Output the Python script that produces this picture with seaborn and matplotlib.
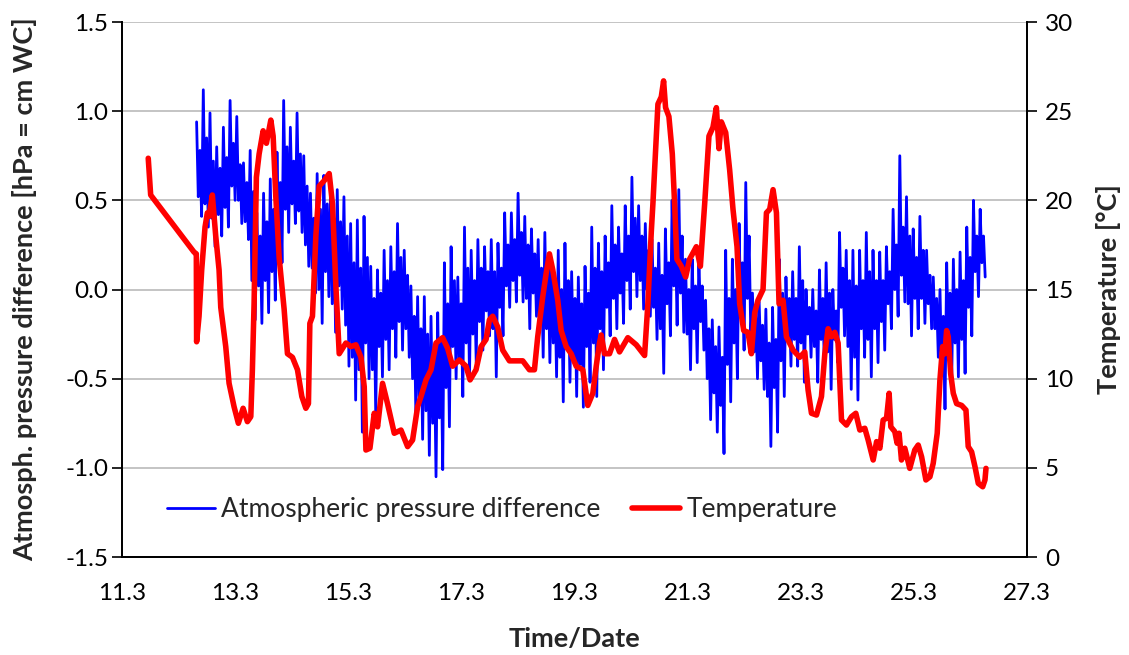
import numpy as np
import pandas as pd
import matplotlib
matplotlib.use("Agg")
import matplotlib.pyplot as plt
import seaborn as sns

# ------------------------------
# data
# ------------------------------
# atmospheric pressure difference, per short time bin:
# outer peak / outer trough and inner peak / inner trough
press_hi = [0.94, 1.12, 0.99, 0.80, 0.91, 1.06, 0.97, 0.71, 0.78, 0.43, 0.54, 0.62, 0.77,
            1.06, 0.91, 0.99, 0.75, 0.54, 0.65, 0.64, 0.58, 0.56, 0.52, 0.37, 0.39, 0.41,
            0.13, 0.11, 0.22, 0.24, 0.37, 0.22, 0.02, -0.04, -0.04, -0.15, -0.13, 0.15, 0.24,
            0.07, 0.35, 0.22, 0.28, 0.24, 0.28, 0.26, 0.43, 0.43, 0.54, 0.41, 0.34, 0.28,
            0.32, 0.15, 0.22, 0.26, 0.10, 0.07, 0.13, 0.35, 0.26, 0.30, 0.47, 0.35, 0.47,
            0.63, 0.47, 0.37, 0.28, 0.26, 0.34, 0.50, 0.56, 0.17, 0.17, 0.17, -0.06, -0.17,
            -0.21, 0.22, 0.17, 0.37, 0.60, -0.02, -0.07, -0.11, -0.10, 0.17, 0.07, 0.10, 0.24,
            0.00, 0.00, 0.11, 0.15, 0.00, 0.32, 0.22, 0.22, 0.22, 0.32, 0.22, 0.21, 0.24,
            0.45, 0.75, 0.52, 0.34, 0.41, 0.22, 0.07, 0.00, 0.15, 0.17, 0.21, 0.35, 0.50, 0.45]
press_lo = [0.41, 0.35, 0.24, 0.30, 0.35, 0.50, 0.37, 0.28, -0.17, -0.19, -0.13, -0.06, 0.15,
            0.32, 0.37, 0.32, 0.13, -0.02, -0.19, -0.04, -0.24, -0.11, -0.43, -0.62, -0.80, -0.50,
            -0.71, -0.49, -0.45, -0.38, -0.34, -0.38, -0.73, -0.84, -0.93, -1.05, -1.01, -0.77, -0.50,
            -0.60, -0.49, -0.41, -0.34, -0.26, -0.49, -0.26, -0.10, -0.07, -0.07, -0.22, -0.15, -0.38,
            -0.41, -0.49, -0.63, -0.52, -0.60, -0.66, -0.52, -0.60, -0.45, -0.26, -0.22, -0.19, -0.11,
            -0.04, -0.11, -0.15, -0.28, -0.47, -0.26, -0.20, -0.24, -0.45, -0.41, -0.34, -0.73, -0.80,
            -0.92, -0.63, -0.50, -0.34, -0.26, -0.50, -0.56, -0.88, -0.80, -0.60, -0.43, -0.43, -0.52,
            -0.38, -0.52, -0.45, -0.56, -0.41, -0.26, -0.56, -0.62, -0.38, -0.49, -0.41, -0.34, -0.22,
            -0.15, -0.07, -0.26, -0.22, -0.19, -0.22, -0.38, -0.67, -0.52, -0.49, -0.47, -0.26, -0.04, 0.07]
press_hi2 = [0.78, 0.85, 0.72, 0.68, 0.74, 0.82, 0.70, 0.60, 0.55, 0.30, 0.38, 0.45, 0.60,
             0.80, 0.72, 0.76, 0.58, 0.40, 0.45, 0.48, 0.40, 0.38, 0.30, 0.15, 0.12, 0.18,
             -0.05, -0.02, 0.05, 0.10, 0.18, 0.08, -0.15, -0.22, -0.25, -0.35, -0.30, -0.08, 0.05,
             -0.08, 0.12, 0.05, 0.12, 0.10, 0.10, 0.12, 0.25, 0.28, 0.32, 0.25, 0.20, 0.12,
             0.12, 0.02, 0.00, 0.05, -0.05, -0.08, -0.02, 0.12, 0.10, 0.15, 0.25, 0.20, 0.30,
             0.40, 0.30, 0.22, 0.12, 0.08, 0.15, 0.30, 0.30, 0.00, 0.02, 0.02, -0.22, -0.32,
             -0.38, -0.05, 0.00, 0.15, 0.30, -0.12, -0.20, -0.30, -0.28, -0.02, -0.05, -0.05, 0.05,
             -0.10, -0.12, -0.05, -0.02, -0.12, 0.12, 0.05, 0.02, 0.05, 0.10, 0.05, 0.05, 0.10,
             0.25, 0.35, 0.30, 0.18, 0.22, 0.08, -0.05, -0.15, -0.02, 0.00, 0.05, 0.18, 0.30, 0.30]
press_lo2 = [0.52, 0.48, 0.40, 0.42, 0.46, 0.58, 0.50, 0.38, 0.05, 0.02, 0.05, 0.10, 0.28,
             0.45, 0.48, 0.44, 0.25, 0.12, 0.00, 0.10, -0.08, 0.02, -0.20, -0.38, -0.45, -0.30,
             -0.45, -0.32, -0.28, -0.22, -0.18, -0.22, -0.50, -0.60, -0.68, -0.75, -0.72, -0.55, -0.32,
             -0.40, -0.30, -0.25, -0.18, -0.12, -0.22, -0.10, 0.02, 0.05, 0.08, -0.05, -0.02, -0.18,
             -0.22, -0.30, -0.38, -0.32, -0.38, -0.42, -0.32, -0.30, -0.22, -0.10, -0.05, -0.02, 0.05,
             0.10, 0.05, 0.00, -0.10, -0.22, -0.08, 0.02, -0.02, -0.25, -0.22, -0.18, -0.50, -0.58,
             -0.65, -0.42, -0.30, -0.15, -0.05, -0.35, -0.40, -0.60, -0.55, -0.40, -0.28, -0.28, -0.30,
             -0.25, -0.32, -0.28, -0.35, -0.28, -0.10, -0.32, -0.38, -0.22, -0.28, -0.22, -0.18, -0.08,
             0.00, 0.08, -0.08, -0.05, -0.05, -0.08, -0.22, -0.45, -0.32, -0.30, -0.28, -0.10, 0.10, 0.15]
press_start, press_end = 12.62, 26.56

# temperature
temp_date = [11.765, 11.808, 12.574, 12.615, 12.62, 12.663, 12.71, 12.769, 12.81, 12.84,
             12.898, 12.958, 13.017, 13.047, 13.135, 13.194, 13.282, 13.358, 13.442, 13.518,
             13.578, 13.606, 13.636, 13.677, 13.725, 13.796, 13.854, 13.932, 13.973, 14.02,
             14.079, 14.167, 14.226, 14.314, 14.403, 14.48, 14.551, 14.597, 14.622, 14.668,
             14.728, 14.787, 14.875, 14.964, 15.022, 15.082, 15.141, 15.259, 15.348, 15.436,
             15.525, 15.583, 15.613, 15.684, 15.76, 15.819, 15.907, 15.995, 16.114, 16.233,
             16.35, 16.438, 16.527, 16.587, 16.675, 16.764, 16.852, 16.969, 17.058, 17.146,
             17.265, 17.383, 17.454, 17.56, 17.649, 17.737, 17.796, 17.854, 17.943, 18.031,
             18.15, 18.268, 18.385, 18.503, 18.592, 18.65, 18.739, 18.799, 18.857, 18.916,
             19.004, 19.064, 19.153, 19.241, 19.33, 19.447, 19.535, 19.624, 19.684, 19.742,
             19.772, 19.831, 19.919, 20.008, 20.096, 20.243, 20.392, 20.539, 20.597, 20.657,
             20.686, 20.775, 20.834, 20.875, 20.91, 20.969, 21.029, 21.07, 21.11, 21.189,
             21.265, 21.335, 21.454, 21.525, 21.601, 21.677, 21.748, 21.808, 21.854, 21.896,
             21.973, 22.043, 22.102, 22.173, 22.22, 22.291, 22.367, 22.427, 22.486, 22.544,
             22.633, 22.693, 22.751, 22.81, 22.87, 22.916, 22.987, 23.047, 23.164, 23.282,
             23.371, 23.429, 23.489, 23.578, 23.666, 23.725, 23.783, 23.843, 23.901, 23.96,
             24.02, 24.108, 24.197, 24.273, 24.344, 24.432, 24.491, 24.58, 24.64, 24.698,
             24.756, 24.816, 24.862, 24.892, 24.962, 25.003, 25.038, 25.08, 25.139, 25.227,
             25.315, 25.376, 25.436, 25.512, 25.583, 25.641, 25.712, 25.76, 25.807, 25.848,
             25.878, 25.907, 25.949, 25.996, 26.055, 26.144, 26.22, 26.26, 26.32, 26.38,
             26.438, 26.516, 26.556, 26.574]
temp_val = [22.36, 20.3, 17.1, 17.0, 12.07, 13.5, 16.1, 18.5, 19.3, 19.1,
            20.3, 18.0, 16.1, 14.0, 11.8, 9.74, 8.43, 7.5, 8.34, 7.59,
            7.87, 10.5, 14.2, 21.3, 22.6, 23.9, 23.2, 24.5, 23.6, 20.2,
            16.8, 13.9, 11.4, 11.2, 10.5, 9.0, 8.34, 8.6, 13.1, 13.5,
            18.0, 20.8, 21.1, 21.5, 19.8, 15.2, 11.4, 12.0, 11.8, 11.9,
            11.2, 9.55, 6.0, 6.1, 8.06, 7.3, 9.74, 8.6, 6.94, 7.12,
            6.19, 6.56, 8.43, 9.0, 9.93, 10.5, 12.0, 12.3, 11.7, 10.7,
            11.05, 10.7, 9.93, 10.5, 11.8, 12.2, 13.3, 13.5, 12.9, 11.6,
            11.0, 11.0, 11.0, 10.5, 10.5, 12.35, 14.6, 15.9, 17.0, 16.1,
            14.4, 12.7, 11.8, 11.4, 10.7, 10.5, 8.5, 9.18, 10.7, 12.0,
            12.45, 11.4, 11.4, 12.2, 11.5, 12.3, 11.9, 11.3, 14.2, 18.2,
            19.8, 25.4, 25.8, 26.7, 25.2, 24.7, 22.6, 19.8, 16.7, 16.3,
            15.7, 16.7, 17.4, 16.3, 19.8, 23.6, 24.1, 25.2, 22.9, 24.4,
            23.8, 21.7, 19.5, 17.4, 14.2, 12.7, 12.6, 11.4, 13.7, 14.4,
            15.0, 19.3, 19.5, 20.6, 19.3, 14.2, 14.4, 12.35, 11.6, 11.2,
            11.5, 9.37, 8.06, 7.96, 9.0, 11.4, 12.8, 12.35, 12.6, 12.0,
            7.68, 7.4, 7.87, 8.06, 7.12, 7.22, 6.56, 5.44, 6.47, 6.1,
            7.68, 7.78, 9.18, 7.3, 7.03, 6.38, 6.94, 5.44, 6.1, 4.97,
            6.0, 6.28, 5.62, 4.32, 4.5, 5.25, 6.94, 9.93, 11.8, 11.4,
            12.7, 12.35, 10.3, 9.18, 8.6, 8.5, 8.24, 6.19, 5.9, 5.06,
            4.13, 3.94, 4.32, 4.97]

x_ticks = [11.3, 13.3, 15.3, 17.3, 19.3, 21.3, 23.3, 25.3, 27.3]

# ------------------------------
# build tables
# ------------------------------
press_val = [v for grp in zip(press_hi, press_lo2, press_hi2, press_lo) for v in grp]
press_df = pd.DataFrame({
    "date": np.linspace(press_start, press_end, len(press_val)),
    "dp": press_val,
})
temp_df = pd.DataFrame({"date": temp_date, "T": temp_val})

# ------------------------------
# plot
# ------------------------------
sns.set_style("white")
plt.rcParams["font.family"] = ["Lato", "DejaVu Sans"]

fig = plt.figure(figsize=(11.29, 6.55), dpi=100)
ax1 = fig.add_axes([0.108, 0.1496, 0.8017, 0.8168])
ax2 = ax1.twinx()

sns.lineplot(data=press_df, x="date", y="dp", ax=ax1, color="#0000ff", lw=2.0,
             estimator=None, sort=False, label="Atmospheric pressure difference", legend=False)
sns.lineplot(data=temp_df, x="date", y="T", ax=ax2, color="#ff0000", lw=4.0,
             estimator=None, sort=False, label="Temperature", legend=False)

ax1.set_xlim(11.3, 27.3)
ax1.set_ylim(-1.5, 1.5)
ax2.set_ylim(0, 30)
ax1.set_xticks(x_ticks)
ax1.set_xticklabels([f"{t:.1f}" for t in x_ticks])
ax1.set_yticks(np.arange(-1.5, 1.51, 0.5))
ax1.set_yticklabels([f"{t:.1f}" for t in np.arange(-1.5, 1.51, 0.5)])
ax2.set_yticks(range(0, 31, 5))

ax1.yaxis.grid(True, color="#bfbfbf", lw=1.3)
ax1.set_axisbelow(True)
for ax in (ax1, ax2):
    ax.spines["top"].set_visible(False)
    for s in ("left", "right", "bottom"):
        ax.spines[s].set_color("black")
        ax.spines[s].set_linewidth(1.3)
    ax.tick_params(axis="both", direction="out", length=7, width=1.2, labelsize=17.5, colors="black")
ax1.tick_params(axis="x", pad=12)
ax1.tick_params(axis="y", pad=3)
ax2.tick_params(axis="y", pad=6)

ax1.set_xlabel("Time/Date", fontsize=19.5, fontweight="bold", labelpad=16)
ax1.set_ylabel("Atmosph. pressure difference [hPa = cm WC]", fontsize=19.5, fontweight="bold", labelpad=20)
ax2.set_ylabel("Temperature [°C]", fontsize=19.5, fontweight="bold", labelpad=16)

h1, l1 = ax1.get_legend_handles_labels()
h2, l2 = ax2.get_legend_handles_labels()
ax2.legend(h1 + h2, l1 + l2, loc="center", bbox_to_anchor=(0.42, 0.088), ncol=2,
           frameon=False, fontsize=19, handlelength=1.8, columnspacing=1.2, handletextpad=0.25)

fig.savefig("out.png", dpi=100)
